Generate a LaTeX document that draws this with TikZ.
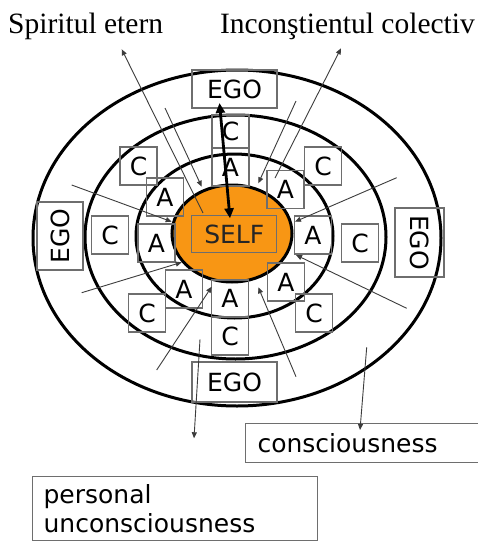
\documentclass[tikz,border=0pt]{standalone}
\usepackage{fontspec}
\setmainfont{Liberation Serif}
\newfontfamily\boxfont{DejaVu Sans}
\usetikzlibrary{arrows.meta}
\definecolor{selforange}{RGB}{248,150,20}
\definecolor{boxgray}{RGB}{110,110,110}
\definecolor{linegray}{RGB}{60,60,60}
\begin{document}
\begin{tikzpicture}[x=1pt,y=-1pt,
  ring/.style={line width=3pt},
  sbox/.style={draw=boxgray,line width=1.1pt,minimum width=37pt,minimum height=38pt,inner sep=0pt,font=\boxfont\fontsize{25}{25}\selectfont},
  bigbox/.style={draw=boxgray,line width=1.1pt,inner xsep=12pt,font=\boxfont\fontsize{25}{29}\selectfont,align=left,anchor=north west},
  thinarrow/.style={draw=linegray,line width=0.9pt,-{Triangle[length=6pt,width=5pt]}},
  bigarrow/.style={line width=2.8pt,{Triangle[length=10pt,width=9pt]}-{Triangle[length=10pt,width=9pt]}},
  toplabel/.style={inner sep=0pt,font=\fontsize{29.5}{29.5}\selectfont}
]
\useasboundingbox (0,0) rectangle (477,541);
\fill[white] (0,0) rectangle (477,541);

% rings
\draw[ring] (237,238) ellipse [x radius=204pt, y radius=168pt];
\draw[ring] (235.5,237) ellipse [x radius=150.5pt, y radius=122pt];
\draw[ring] (234.5,236) ellipse [x radius=98.5pt, y radius=82pt];
\draw[ring, fill=selforange] (232,233.5) ellipse [x radius=60pt, y radius=48.5pt];

% EGO boxes
\node[sbox, minimum width=85pt, minimum height=38pt] (egotop) at (234.5,89) {EGO};
\node[sbox, minimum width=85pt, minimum height=40pt] (egobot) at (234.5,382) {EGO};
\node[sbox, rotate=90, minimum width=68pt, minimum height=46pt] (egoleft) at (60,236) {EGO};
\node[sbox, rotate=-90, minimum width=69pt, minimum height=49pt] (egoright) at (419.5,242.5) {EGO};

% SELF
\node[sbox, minimum width=85pt, minimum height=37pt, text=black!85] (selfbox) at (234.3,234) {SELF};

% C and A boxes
\node[sbox, minimum height=33pt] (ct) at (230.5,131.5) {C};
\node[sbox] (at) at (230.5,167) {A};
\node[sbox] (cul) at (138.5,166) {C};
\node[sbox] (aul) at (165,197) {A};
\node[sbox] (cl) at (110,235) {C};
\node[sbox] (al) at (156.5,243) {A};
\node[sbox] (all) at (184,289) {A};
\node[sbox] (cll) at (147,313) {C};
\node[sbox, minimum height=37pt] (ab) at (230,298.5) {A};
\node[sbox] (cb) at (230,336) {C};
\node[sbox] (alr) at (286,282) {A};
\node[sbox] (clr) at (314,313) {C};
\node[sbox] (ar) at (313,235) {A};
\node[sbox] (cr) at (360,243) {C};
\node[sbox] (aur) at (285.5,189.5) {A};
\node[sbox] (cur) at (323,166) {C};

% label boxes
\node[bigbox, inner ysep=10pt, text width=230pt] (cons) at (245,423) {consciousness};
\node[bigbox, inner ysep=8pt, inner xsep=11pt, text width=263pt] (pers) at (32,476) {personal\\unconsciousness};

% top labels
\node[toplabel, anchor=base west] (spirit) at (8,33) {Spiritul etern};
\node[toplabel, anchor=base east] (incon) at (475,33) {Inconştientul colectiv};

% thin connectors
\coordinate (a1) at (203,213);   \coordinate (a2) at (121.7,49.3);
\coordinate (b1) at (165,108);   \coordinate (b2) at (201.7,186.7);
\coordinate (c1) at (71.7,185);  \coordinate (c2) at (171.7,221.7);
\coordinate (d1) at (275,178);   \coordinate (d2) at (341,48.3);
\coordinate (e1) at (296,101);   \coordinate (e2) at (258.3,183.3);
\coordinate (f1) at (396.7,177.7); \coordinate (f2) at (295,221.7);
\coordinate (g1) at (81.7,292.7); \coordinate (g2) at (181.7,262.3);
\coordinate (h1) at (156.7,370); \coordinate (h2) at (211.7,286.7);
\coordinate (i1) at (200,339.3); \coordinate (i2) at (194,438.3);
\coordinate (j1) at (296,376.7); \coordinate (j2) at (258.3,287.3);
\coordinate (k1) at (406.7,308.3); \coordinate (k2) at (296,255);
\coordinate (l1) at (366.7,347.3); \coordinate (l2) at (360,430);
\foreach \p in {a,b,c,d,e,f,g,h,i,j,k,l}
  \draw[thinarrow] (\p1) -- (\p2);

% thick double arrow EGO <-> SELF
\coordinate (egotip) at (219.5,103);
\coordinate (selftip) at (230,218.3);
\draw[bigarrow] (egotip) -- (selftip);
\end{tikzpicture}
\end{document}
